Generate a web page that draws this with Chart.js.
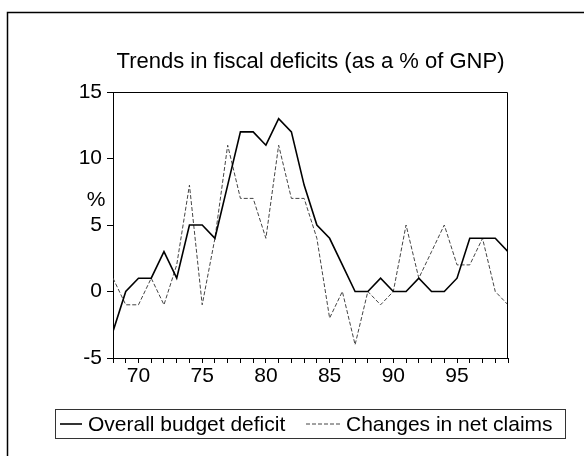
<!DOCTYPE html>
<html>
<head>
<meta charset="utf-8">
<title>Fiscal deficits</title>
<script src="https://cdn.jsdelivr.net/npm/chart.js@4/dist/chart.umd.min.js"></script>
<style>
  html, body { margin: 0; padding: 0; background: #fff; }
  #wrap { width: 584px; height: 456px; }
</style>
</head>
<body>
<div id="wrap"><canvas id="fiscalChart" width="584" height="456"></canvas></div>
<script>
const years = [68, 69, 70, 71, 72, 73, 74, 75, 76, 77, 78, 79, 80, 81, 82, 83,
               84, 85, 86, 87, 88, 89, 90, 91, 92, 93, 94, 95, 96, 97, 98, 99];
const budgetDeficit = [-3, 0, 1, 1, 3, 1, 5, 5, 4, 8, 12, 12, 11, 13, 12, 8,
                       5, 4, 2, 0, 0, 1, 0, 0, 1, 0, 0, 1, 4, 4, 4, 3];
const netClaims = [1, -1, -1, 1, -1, 2, 8, -1, 4, 11, 7, 7, 4, 11, 7, 7,
                   4, -2, 0, -4, 0, -1, 0, 5, 1, 3, 5, 2, 2, 4, 0, -1];
const seriesNames = ["Overall budget deficit", "Changes in net claims"];
const xLabels = [70, 75, 80, 85, 90, 95];
const yLabels = [-5, 0, 5, 10, 15];
const chartTitle = "Trends in fiscal deficits (as a % of GNP)";
const yUnit = "%";

const FONT = "'Liberation Sans', Arial, sans-serif";

function points(values) {
  return years.map((yr, i) => ({ x: yr, y: values[i] }));
}

// frame, title, unit label and boxed legend drawn around the plot
const decorations = {
  id: "decorations",
  afterDraw(chart) {
    const ctx = chart.ctx;
    const area = chart.chartArea;
    ctx.save();

    // outer frame (top and left edges only)
    ctx.strokeStyle = "#000";
    ctx.lineWidth = 1.5;
    ctx.beginPath();
    ctx.moveTo(584, 12.5);
    ctx.lineTo(7.5, 12.5);
    ctx.lineTo(7.5, 456);
    ctx.stroke();

    // top and right of the plot box
    ctx.lineWidth = 1;
    ctx.beginPath();
    ctx.moveTo(area.left, area.top + 0.5);
    ctx.lineTo(area.right - 0.5, area.top + 0.5);
    ctx.lineTo(area.right - 0.5, area.bottom);
    ctx.stroke();

    // title
    ctx.fillStyle = "#000";
    ctx.font = "22px " + FONT;
    ctx.textAlign = "center";
    ctx.textBaseline = "middle";
    ctx.fillText(chartTitle, (area.left + area.right) / 2, 62);

    // unit label, between the 10 and 5 ticks
    ctx.font = "21px " + FONT;
    ctx.fillText(yUnit, 96, 200);

    // legend box
    const box = { x: 55.5, y: 409.5, w: 510, h: 29 };
    ctx.lineWidth = 1;
    ctx.strokeStyle = "#333";
    ctx.strokeRect(box.x, box.y, box.w, box.h);

    const cy = box.y + box.h / 2;
    const items = [
      { x: 60, w: 22, ds: chart.data.datasets[0] },
      { x: 306, w: 34, ds: chart.data.datasets[1] }
    ];
    ctx.textAlign = "left";
    items.forEach((it) => {
      ctx.beginPath();
      ctx.strokeStyle = it.ds.borderColor;
      ctx.lineWidth = it.ds.borderWidth;
      ctx.setLineDash(it.ds.borderDash || []);
      ctx.moveTo(it.x, cy);
      ctx.lineTo(it.x + it.w, cy);
      ctx.stroke();
      ctx.setLineDash([]);
      ctx.fillStyle = "#000";
      ctx.fillText(it.ds.label, it.x + it.w + 6, cy + 1);
    });

    ctx.restore();
  }
};

const ctx = document.getElementById("fiscalChart").getContext("2d");
new Chart(ctx, {
  type: "line",
  data: {
    datasets: [
      {
        label: seriesNames[0],
        data: points(budgetDeficit),
        borderColor: "#000",
        borderWidth: 1.6,
        pointRadius: 0,
        tension: 0,
        fill: false
      },
      {
        label: seriesNames[1],
        data: points(netClaims),
        borderColor: "#444",
        borderWidth: 1,
        borderDash: [4, 2],
        pointRadius: 0,
        tension: 0,
        fill: false
      }
    ]
  },
  options: {
    responsive: false,
    animation: false,
    layout: { padding: { left: 0, right: 76, top: 92, bottom: 58 } },
    plugins: {
      legend: { display: false },
      title: { display: false },
      tooltip: { enabled: false }
    },
    scales: {
      x: {
        type: "linear",
        min: years[0],
        max: years[years.length - 1],
        afterFit: (scale) => { scale.height = 40; },
        ticks: {
          stepSize: 1,
          autoSkip: false,
          maxRotation: 0,
          maxTicksLimit: 100,
          padding: 1,
          color: "#000",
          font: { family: FONT, size: 21 },
          callback: (v) => (xLabels.includes(v) ? String(v) : "")
        },
        grid: { drawOnChartArea: false, drawTicks: true, tickLength: 5, color: "#000" },
        border: { display: true, color: "#000", width: 1 }
      },
      y: {
        min: yLabels[0],
        max: yLabels[yLabels.length - 1],
        afterFit: (scale) => { scale.width = 113; },
        ticks: {
          stepSize: 5,
          padding: 5,
          color: "#000",
          font: { family: FONT, size: 21 },
          callback: (v) => (yLabels.includes(v) ? String(v) : "")
        },
        grid: { drawOnChartArea: false, drawTicks: true, tickLength: 6, color: "#000" },
        border: { display: true, color: "#000", width: 1 }
      }
    }
  },
  plugins: [decorations]
});
</script>
</body>
</html>
